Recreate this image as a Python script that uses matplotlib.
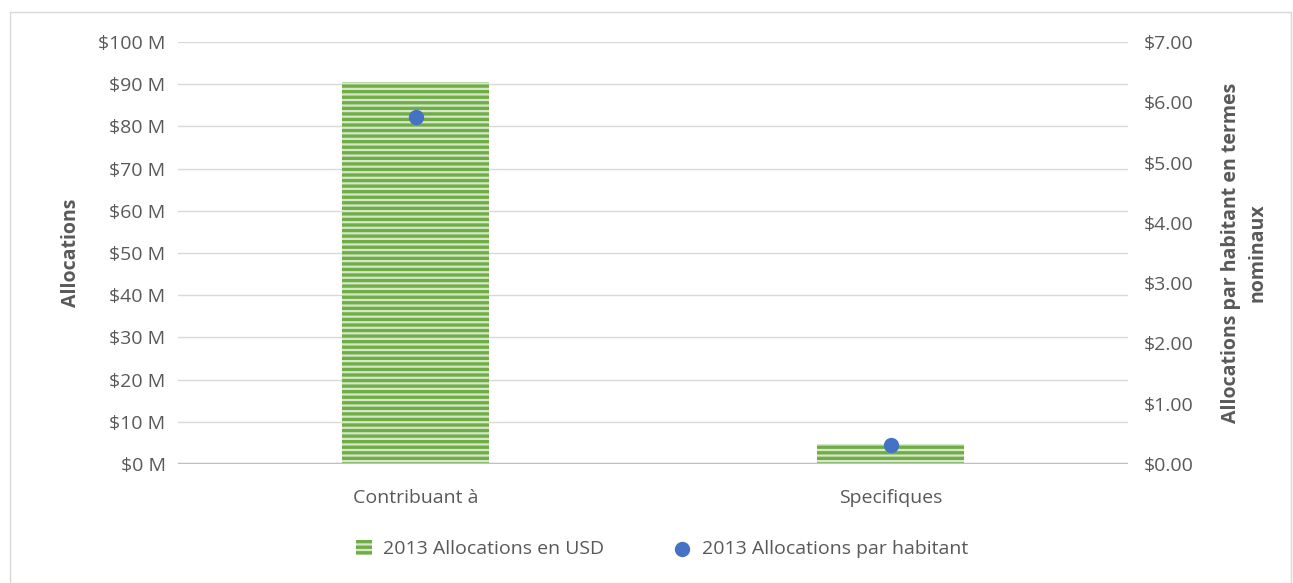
import matplotlib.pyplot as plt
from matplotlib.patches import Rectangle

categories = ["Contribuant à", "Specifiques"]
allocations_musd = [90.5, 4.8]
per_capita = [5.75, 0.31]

left_ticks = list(range(0, 101, 10))
right_ticks = [0, 1, 2, 3, 4, 5, 6, 7]

TEXT = "#595959"
plt.rcParams["font.family"] = ["Open Sans", "DejaVu Sans"]
plt.rcParams["hatch.linewidth"] = 2.4

fig = plt.figure(figsize=(12.93, 5.83), dpi=100)
ax = fig.add_axes([178 / 1293, 1 - 464 / 583, 950 / 1293, 422 / 583])
ax2 = ax.twinx()

x = range(len(categories))
ax.bar(x, allocations_musd, width=0.31, color="#d5e8c8",
       edgecolor="#70AD47", hatch="---", linewidth=0,
       label="2013 Allocations en USD", zorder=2)
ax2.scatter(x, per_capita, s=100, color="#4472C4", zorder=3,
            label="2013 Allocations par habitant")

ax.set_xlim(-0.5, 1.5)
ax.set_ylim(0, 100)
ax2.set_ylim(0, 7)
ax.set_yticks(left_ticks)
ax.set_yticklabels([f"${v} M" for v in left_ticks])
ax2.set_yticks(right_ticks)
ax2.set_yticklabels([f"${v:.2f}" for v in right_ticks])
ax.set_xticks(list(x))
ax.set_xticklabels(categories)

for a in (ax, ax2):
    for s in a.spines.values():
        s.set_visible(False)
    a.tick_params(length=0, colors=TEXT, labelsize=14)
ax.tick_params(axis="y", pad=9)
ax2.tick_params(axis="y", pad=11)
ax.tick_params(axis="x", pad=18)
ax.grid(axis="y", color="#D9D9D9", linewidth=1)
ax.set_axisbelow(True)
ax.axhline(0, color="#BFBFBF", linewidth=2.5, zorder=4)

ax.set_ylabel("Allocations", fontsize=14, fontweight="bold", color=TEXT, labelpad=12)
ax2.set_ylabel("Allocations par habitant en termes\nnominaux", fontsize=14,
               fontweight="bold", color=TEXT, labelpad=20, linespacing=1.45)

h1, l1 = ax.get_legend_handles_labels()
h2, l2 = ax2.get_legend_handles_labels()
fig.legend(h1 + h2, l1 + l2, loc="center", bbox_to_anchor=(0.512, 1 - 549 / 583),
           ncol=2, frameon=False, fontsize=14, labelcolor=TEXT,
           handlelength=0.8, handleheight=0.8, columnspacing=3.6, handletextpad=0.6)

fig.add_artist(Rectangle((10 / 1293, 0), 1 - 12 / 1293, 1 - 12 / 583,
                         transform=fig.transFigure, fill=False,
                         edgecolor="#D9D9D9", linewidth=1))

fig.savefig("out.png", dpi=100)
